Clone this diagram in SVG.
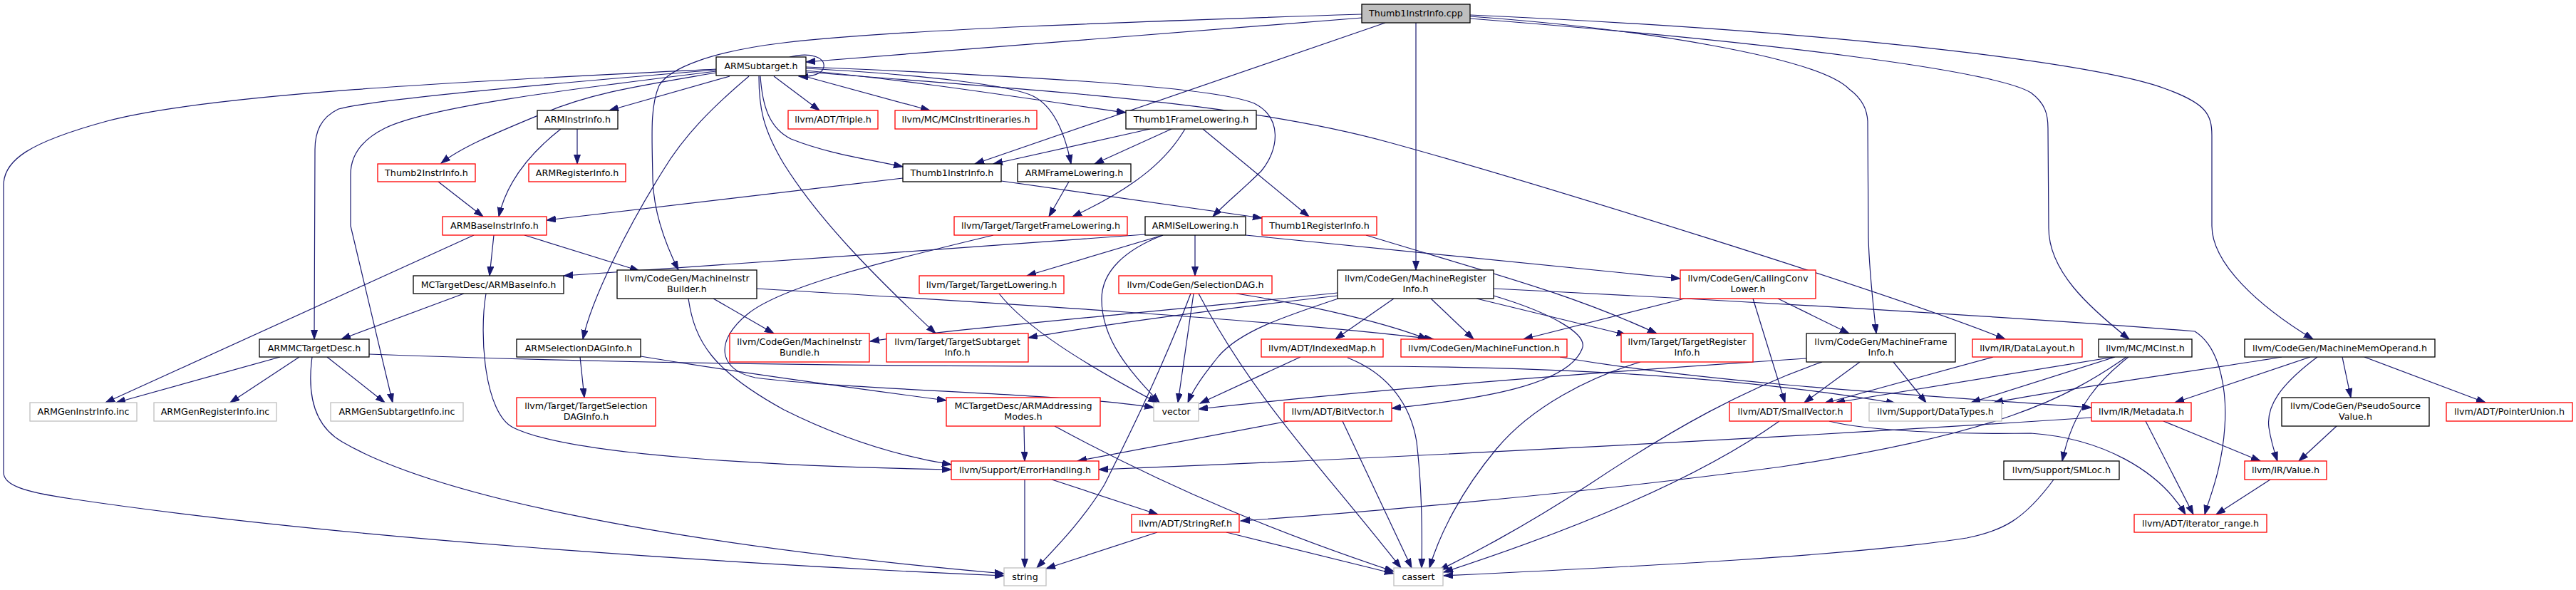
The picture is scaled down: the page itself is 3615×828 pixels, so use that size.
<svg xmlns="http://www.w3.org/2000/svg" width="3615" height="828" viewBox="0 0 3615 828">
<style>
.n rect{fill:#fff;stroke:#000;stroke-width:1.3}
.n.r rect{stroke:#ff0000}
.n.g rect{stroke:#bfbfbf}
.n.root rect{fill:#bfbfbf}
text{font-family:"DejaVu Sans","Liberation Sans",sans-serif;font-size:12.7px;text-anchor:middle;fill:#000}
#edges path{fill:none;stroke:#191970;stroke-width:1.2;marker-end:url(#a)}
</style>
<defs>
<marker id="a" markerUnits="userSpaceOnUse" markerWidth="14" markerHeight="10" refX="13" refY="4.5" orient="auto">
<path d="M0,0 L13,4.5 L0,9 z" fill="#191970" stroke="#191970" stroke-width="1"/>
</marker>
</defs>
<rect width="3615" height="828" fill="#fff"/>
<g id="edges">
<path d="M1911,25 C1600,50 1300,75 1131,87"/>
<path d="M1911,20 C1600,30 1250,42 1100,60 C1000,72 940,95 925,120 C912,150 915,190 916,250 C917,300 935,345 952,379"/>
<path d="M1944,32 L1368,230"/>
<path d="M1987,32 L1987,379"/>
<path d="M2063,21 C2600,45 2950,90 3040,125 C3095,145 3104,160 3104,190 L3104,317 C3104,370 3170,430 3246,476"/>
<path d="M2063,23 C2300,40 2550,80 2595,125 C2615,140 2620,155 2621,170 L2622,333 C2623,380 2628,420 2633,468"/>
<path d="M2063,26 C2500,60 2800,100 2850,130 C2870,145 2874,160 2874,180 L2875,320 C2875,380 2930,430 2988,476"/>
<path d="M1131,101 C1500,130 1750,145 1950,200 S2650,410 2814,476"/>
<path d="M1005,97 C700,112 300,130 150,170 C40,200 5,225 5,260 L5,663 C5,680 30,690 100,700 C500,760 1100,795 1409,808"/>
<path d="M1005,98 C800,115 520,140 475,153 C450,165 442,185 442,210 L441,476"/>
<path d="M1005,100 C800,125 600,150 540,180 C500,200 492,225 492,245 L492,317 L551,565"/>
<path d="M1005,102 C900,120 830,130 760,160 C700,185 650,205 619,229"/>
<path d="M1024,107 L855,155"/>
<path d="M1051,107 C1000,150 960,190 930,240 C880,320 830,420 818,476"/>
<path d="M1067,107 C1070,150 1080,180 1110,195 C1160,215 1210,222 1267,234"/>
<path d="M1065,107 C1065,150 1070,180 1100,230 C1150,310 1230,390 1313,468"/>
<path d="M1086,107 L1150,155"/>
<path d="M1125,106 L1305,155"/>
<path d="M1131,96 C1300,105 1420,120 1450,135 C1480,150 1495,190 1503,230"/>
<path d="M1131,94 C1400,105 1700,120 1760,145 C1800,165 1795,210 1770,240 C1745,265 1720,285 1702,304"/>
<path d="M1131,99 C1300,115 1450,140 1580,158"/>
<path d="M1108,80 C1140,72 1158,82 1156,94 C1154,104 1140,108 1121,107"/>
<path d="M810,181 L810,230"/>
<path d="M787,181 C750,210 712,250 700,304"/>
<path d="M615,255 L678,304"/>
<path d="M1267,250 L767,309"/>
<path d="M1405,254 L1771,306"/>
<path d="M1614,181 L1394,230"/>
<path d="M1644,181 L1536,230"/>
<path d="M1663,181 C1640,220 1600,260 1505,304"/>
<path d="M1688,181 L1837,304"/>
<path d="M1500,255 L1472,304"/>
<path d="M665,330 L148,565"/>
<path d="M693,330 L687,387"/>
<path d="M736,330 L897,380"/>
<path d="M1607,329 C1400,345 1000,372 791,387"/>
<path d="M1677,330 L1677,387"/>
<path d="M1632,330 L1441,387"/>
<path d="M1632,330 C1580,350 1546,380 1546,420 C1546,480 1590,525 1627,565"/>
<path d="M1748,330 L2358,391"/>
<path d="M1394,330 C1250,365 1100,400 1050,440 C1000,480 1010,520 1060,530 C1200,548 1500,552 1619,572"/>
<path d="M1402,412 C1440,460 1520,510 1624,565"/>
<path d="M1671,412 C1630,520 1580,620 1550,680 C1520,730 1480,770 1455,797"/>
<path d="M1675,412 L1653,565"/>
<path d="M1682,412 C1760,560 1850,650 1966,797"/>
<path d="M1735,412 C1850,430 1950,455 2003,476"/>
<path d="M1877,415 C1700,435 1550,455 1443,474"/>
<path d="M1877,411 C1600,440 1350,460 1221,479"/>
<path d="M1878,419 C1800,445 1740,465 1710,500 C1690,525 1675,545 1667,565"/>
<path d="M1956,419 L1874,476"/>
<path d="M2008,419 L2068,476"/>
<path d="M2072,419 L2282,470"/>
<path d="M2096,415 C2180,440 2230,470 2220,490 C2200,540 2080,560 1953,573"/>
<path d="M2096,405 C2500,425 2900,450 3080,465 C3120,490 3125,560 3122,600 C3118,660 3100,700 3094,722"/>
<path d="M1917,330 C2080,380 2200,410 2325,468"/>
<path d="M2364,419 L2138,476"/>
<path d="M2495,419 L2595,468"/>
<path d="M2460,419 L2505,565"/>
<path d="M1001,419 L1086,468"/>
<path d="M966,419 C975,480 1000,520 1100,575 C1180,615 1260,640 1335,652"/>
<path d="M1062,405 C1400,425 1800,450 2012,476"/>
<path d="M651,412 L479,476"/>
<path d="M682,412 C672,470 680,580 720,600 C800,640 1100,655 1335,659"/>
<path d="M393,501 L163,565"/>
<path d="M420,501 L323,565"/>
<path d="M459,501 L540,565"/>
<path d="M438,501 C430,560 445,600 480,620 C600,690 900,760 1409,805"/>
<path d="M518,497 C1000,515 1500,515 1900,514 C2200,514 2450,530 2660,566"/>
<path d="M2189,501 C2400,538 2700,555 2935,572"/>
<path d="M814,501 L820,558"/>
<path d="M899,500 C1050,525 1200,545 1328,562"/>
<path d="M1437,598 L1438,647"/>
<path d="M1480,598 C1650,690 1800,750 1956,802"/>
<path d="M1438,673 L1438,797"/>
<path d="M1476,673 L1625,722"/>
<path d="M1624,747 L1468,798"/>
<path d="M1721,747 L1956,805"/>
<path d="M1808,591 L1512,647"/>
<path d="M1884,591 L1981,797"/>
<path d="M1825,501 L1684,566"/>
<path d="M1891,502 C1950,525 1980,570 1988,620 C1995,680 1996,750 1995,797"/>
<path d="M2302,508 C2230,530 2150,570 2100,630 C2050,690 2020,750 2006,797"/>
<path d="M2535,503 C2200,525 1900,550 1682,574"/>
<path d="M2557,508 C2450,545 2350,600 2230,680 C2130,745 2060,780 2020,800"/>
<path d="M2610,508 L2532,565"/>
<path d="M2657,508 L2703,565"/>
<path d="M2797,501 L2560,566"/>
<path d="M2966,501 L2576,565"/>
<path d="M2968,501 L2766,565"/>
<path d="M2987,501 C2950,530 2910,570 2894,647"/>
<path d="M2984,501 C2900,560 2800,610 2500,655 C2200,695 1900,720 1741,731"/>
<path d="M2497,591 C2400,660 2250,730 2026,803"/>
<path d="M2567,591 C2620,605 2750,610 2850,608 C2950,615 3030,660 3067,722"/>
<path d="M2935,586 C2500,615 1900,645 1542,659"/>
<path d="M3011,591 L3078,722"/>
<path d="M3036,591 L3172,647"/>
<path d="M2882,673 C2840,730 2810,745 2760,755 C2600,780 2300,795 2026,808"/>
<path d="M3202,501 C3100,518 2900,545 2798,565"/>
<path d="M3242,501 L3052,565"/>
<path d="M3252,501 C3200,540 3180,570 3184,600 C3187,620 3192,635 3196,647"/>
<path d="M3287,501 L3299,558"/>
<path d="M3318,501 L3488,565"/>
<path d="M3279,598 L3226,647"/>
<path d="M3186,673 L3110,722"/>
</g>
<g id="n1" class="n root"><rect x="1911" y="6" width="152" height="26"/><text x="1987" y="23.3">Thumb1InstrInfo.cpp</text></g>
<g id="n2" class="n"><rect x="1005" y="80" width="126" height="26"/><text x="1068" y="97.3">ARMSubtarget.h</text></g>
<g id="n3" class="n"><rect x="754" y="155" width="113" height="26"/><text x="810.5" y="172.3">ARMInstrInfo.h</text></g>
<g id="n4" class="n r"><rect x="1106" y="155" width="126" height="26"/><text x="1169" y="172.3">llvm/ADT/Triple.h</text></g>
<g id="n5" class="n r"><rect x="1256" y="155" width="199" height="26"/><text x="1355.5" y="172.3">llvm/MC/MCInstrItineraries.h</text></g>
<g id="n6" class="n"><rect x="1580" y="155" width="183" height="26"/><text x="1671.5" y="172.3">Thumb1FrameLowering.h</text></g>
<g id="n7" class="n r"><rect x="530" y="230" width="137" height="25"/><text x="598.5" y="246.8">Thumb2InstrInfo.h</text></g>
<g id="n8" class="n r"><rect x="742" y="230" width="136" height="25"/><text x="810" y="246.8">ARMRegisterInfo.h</text></g>
<g id="n9" class="n"><rect x="1267" y="230" width="138" height="25"/><text x="1336" y="246.8">Thumb1InstrInfo.h</text></g>
<g id="n10" class="n"><rect x="1428" y="230" width="159" height="25"/><text x="1507.5" y="246.8">ARMFrameLowering.h</text></g>
<g id="n11" class="n r"><rect x="621" y="304" width="146" height="26"/><text x="694" y="321.3">ARMBaseInstrInfo.h</text></g>
<g id="n12" class="n r"><rect x="1339" y="304" width="243" height="26"/><text x="1460.5" y="321.3">llvm/Target/TargetFrameLowering.h</text></g>
<g id="n13" class="n"><rect x="1607" y="304" width="141" height="26"/><text x="1677.5" y="321.3">ARMISelLowering.h</text></g>
<g id="n14" class="n r"><rect x="1771" y="304" width="161" height="26"/><text x="1851.5" y="321.3">Thumb1RegisterInfo.h</text></g>
<g id="n15" class="n"><rect x="580" y="387" width="211" height="25"/><text x="685.5" y="403.8">MCTargetDesc/ARMBaseInfo.h</text></g>
<g id="n16" class="n"><rect x="866" y="379" width="196" height="40"/><text x="964" y="395">llvm/CodeGen/MachineInstr</text><text x="964" y="410">Builder.h</text></g>
<g id="n17" class="n r"><rect x="1290" y="387" width="203" height="25"/><text x="1391.5" y="403.8">llvm/Target/TargetLowering.h</text></g>
<g id="n18" class="n r"><rect x="1570" y="387" width="215" height="25"/><text x="1677.5" y="403.8">llvm/CodeGen/SelectionDAG.h</text></g>
<g id="n19" class="n"><rect x="1877" y="379" width="219" height="40"/><text x="1986.5" y="395">llvm/CodeGen/MachineRegister</text><text x="1986.5" y="410">Info.h</text></g>
<g id="n20" class="n r"><rect x="2358" y="379" width="190" height="40"/><text x="2453" y="395">llvm/CodeGen/CallingConv</text><text x="2453" y="410">Lower.h</text></g>
<g id="n21" class="n"><rect x="364" y="476" width="154" height="25"/><text x="441" y="492.8">ARMMCTargetDesc.h</text></g>
<g id="n22" class="n"><rect x="725" y="476" width="174" height="25"/><text x="812" y="492.8">ARMSelectionDAGInfo.h</text></g>
<g id="n23" class="n r"><rect x="1024" y="468" width="196" height="40"/><text x="1122" y="484">llvm/CodeGen/MachineInstr</text><text x="1122" y="499">Bundle.h</text></g>
<g id="n24" class="n r"><rect x="1244" y="468" width="199" height="40"/><text x="1343.5" y="484">llvm/Target/TargetSubtarget</text><text x="1343.5" y="499">Info.h</text></g>
<g id="n25" class="n r"><rect x="1770" y="476" width="171" height="25"/><text x="1855.5" y="492.8">llvm/ADT/IndexedMap.h</text></g>
<g id="n26" class="n r"><rect x="1966" y="476" width="233" height="25"/><text x="2082.5" y="492.8">llvm/CodeGen/MachineFunction.h</text></g>
<g id="n27" class="n r"><rect x="2275" y="468" width="185" height="40"/><text x="2367.5" y="484">llvm/Target/TargetRegister</text><text x="2367.5" y="499">Info.h</text></g>
<g id="n28" class="n"><rect x="2535" y="468" width="209" height="40"/><text x="2639.5" y="484">llvm/CodeGen/MachineFrame</text><text x="2639.5" y="499">Info.h</text></g>
<g id="n29" class="n r"><rect x="2768" y="476" width="154" height="25"/><text x="2845" y="492.8">llvm/IR/DataLayout.h</text></g>
<g id="n30" class="n"><rect x="2945" y="476" width="131" height="25"/><text x="3010.5" y="492.8">llvm/MC/MCInst.h</text></g>
<g id="n31" class="n"><rect x="3150" y="476" width="267" height="25"/><text x="3283.5" y="492.8">llvm/CodeGen/MachineMemOperand.h</text></g>
<g id="n32" class="n g"><rect x="42" y="565" width="150" height="26"/><text x="117" y="582.3">ARMGenInstrInfo.inc</text></g>
<g id="n33" class="n g"><rect x="216" y="565" width="172" height="26"/><text x="302" y="582.3">ARMGenRegisterInfo.inc</text></g>
<g id="n34" class="n g"><rect x="464" y="565" width="186" height="26"/><text x="557" y="582.3">ARMGenSubtargetInfo.inc</text></g>
<g id="n35" class="n r"><rect x="725" y="558" width="195" height="40"/><text x="822.5" y="574">llvm/Target/TargetSelection</text><text x="822.5" y="589">DAGInfo.h</text></g>
<g id="n36" class="n r"><rect x="1328" y="558" width="216" height="40"/><text x="1436" y="574">MCTargetDesc/ARMAddressing</text><text x="1436" y="589">Modes.h</text></g>
<g id="n37" class="n g"><rect x="1619" y="565" width="63" height="26"/><text x="1650.5" y="582.3">vector</text></g>
<g id="n38" class="n r"><rect x="1802" y="565" width="151" height="26"/><text x="1877.5" y="582.3">llvm/ADT/BitVector.h</text></g>
<g id="n39" class="n r"><rect x="2427" y="565" width="171" height="26"/><text x="2512.5" y="582.3">llvm/ADT/SmallVector.h</text></g>
<g id="n40" class="n g"><rect x="2623" y="565" width="186" height="26"/><text x="2716" y="582.3">llvm/Support/DataTypes.h</text></g>
<g id="n41" class="n r"><rect x="2935" y="565" width="140" height="26"/><text x="3005" y="582.3">llvm/IR/Metadata.h</text></g>
<g id="n42" class="n"><rect x="3202" y="558" width="207" height="40"/><text x="3305.5" y="574">llvm/CodeGen/PseudoSource</text><text x="3305.5" y="589">Value.h</text></g>
<g id="n43" class="n r"><rect x="3433" y="565" width="177" height="26"/><text x="3521.5" y="582.3">llvm/ADT/PointerUnion.h</text></g>
<g id="n44" class="n r"><rect x="1335" y="647" width="207" height="26"/><text x="1438.5" y="664.3">llvm/Support/ErrorHandling.h</text></g>
<g id="n45" class="n"><rect x="2812" y="647" width="162" height="26"/><text x="2893" y="664.3">llvm/Support/SMLoc.h</text></g>
<g id="n46" class="n r"><rect x="3150" y="647" width="115" height="26"/><text x="3207.5" y="664.3">llvm/IR/Value.h</text></g>
<g id="n47" class="n r"><rect x="1588" y="722" width="151" height="25"/><text x="1663.5" y="738.8">llvm/ADT/StringRef.h</text></g>
<g id="n48" class="n r"><rect x="2995" y="722" width="186" height="25"/><text x="3088" y="738.8">llvm/ADT/iterator_range.h</text></g>
<g id="n49" class="n g"><rect x="1409" y="797" width="59" height="25"/><text x="1438.5" y="813.8">string</text></g>
<g id="n50" class="n g"><rect x="1956" y="797" width="69" height="25"/><text x="1990.5" y="813.8">cassert</text></g>
</svg>
